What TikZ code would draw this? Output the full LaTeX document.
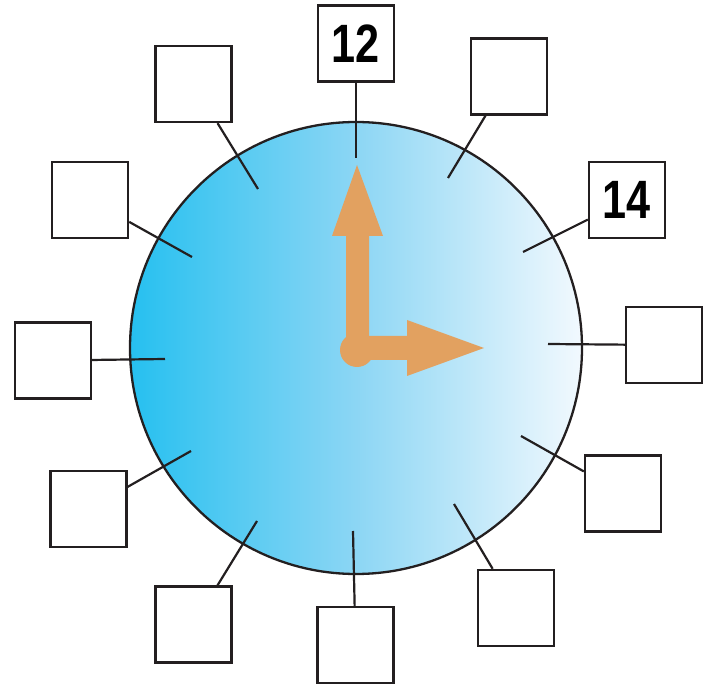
\documentclass[tikz,border=0pt]{standalone}
\usepackage{fontspec}
\setmainfont{Liberation Sans}
\definecolor{dialL}{RGB}{38,192,240}
\definecolor{dialM}{RGB}{140,214,244}
\definecolor{dialR}{RGB}{242,249,254}
\definecolor{hand}{RGB}{226,161,96}
\definecolor{ink}{RGB}{35,31,32}
\tikzset{
  answerbox/.style={draw=ink, line width=2.4pt, fill=white, minimum size=76pt, inner sep=0pt,
    font=\fontsize{54}{54}\selectfont\bfseries},
  tickline/.style={draw=ink, line width=2.2pt},
  handshape/.style={fill=hand, draw=none}
}
\begin{document}
\begin{tikzpicture}[x=1pt,y=-1pt]
\useasboundingbox (0,0) rectangle (713,684);
% dial
\node[circle, minimum size=452pt, inner sep=0pt, draw=ink, line width=2.3pt,
  left color=dialL, right color=dialR, middle color=dialM] (dial) at (356,348) {};
% tick inner ends
\coordinate (t12) at (356,158);
\coordinate (t1) at (448,178);
\coordinate (t2) at (523,252);
\coordinate (t3) at (548,344);
\coordinate (t4) at (521,436);
\coordinate (t5) at (454,504);
\coordinate (t6) at (353,531);
\coordinate (t7) at (257,521);
\coordinate (t8) at (191,451);
\coordinate (t9) at (165,359);
\coordinate (t10) at (192,257);
\coordinate (t11) at (258,189);
% boxes
\node[answerbox] (b12) at (356,43.5) {\scalebox{0.8}[1]{12}};
\node[answerbox] (b1) at (509,76.5) {};
\node[answerbox] (b2) at (627,200) {\scalebox{0.8}[1]{14}};
\node[answerbox] (b3) at (664,345) {};
\node[answerbox] (b4) at (623,493.5) {};
\node[answerbox] (b5) at (516,608) {};
\node[answerbox] (b6) at (355.5,645) {};
\node[answerbox] (b7) at (193.5,624.5) {};
\node[answerbox] (b8) at (88.5,509) {};
\node[answerbox] (b9) at (53,360.5) {};
\node[answerbox] (b10) at (90,200) {};
\node[answerbox] (b11) at (193.5,84) {};
% connectors
\foreach \i in {12,1,2,3,4,5,6,7,8,9,10,11}{
  \draw[tickline] (t\i) -- (b\i);
}
% hands
\fill[handshape] (346,350) -- (346,236) -- (332,236) -- (357,165) -- (383,236) -- (369,236) -- (369,350) -- cycle;
\fill[handshape] (357,336) -- (407,336) -- (407,320) -- (484,348) -- (407,376) -- (407,360) -- (357,360) -- cycle;
\node[circle, handshape, minimum size=34pt, inner sep=0pt] (hub) at (357,350) {};
\end{tikzpicture}
\end{document}
